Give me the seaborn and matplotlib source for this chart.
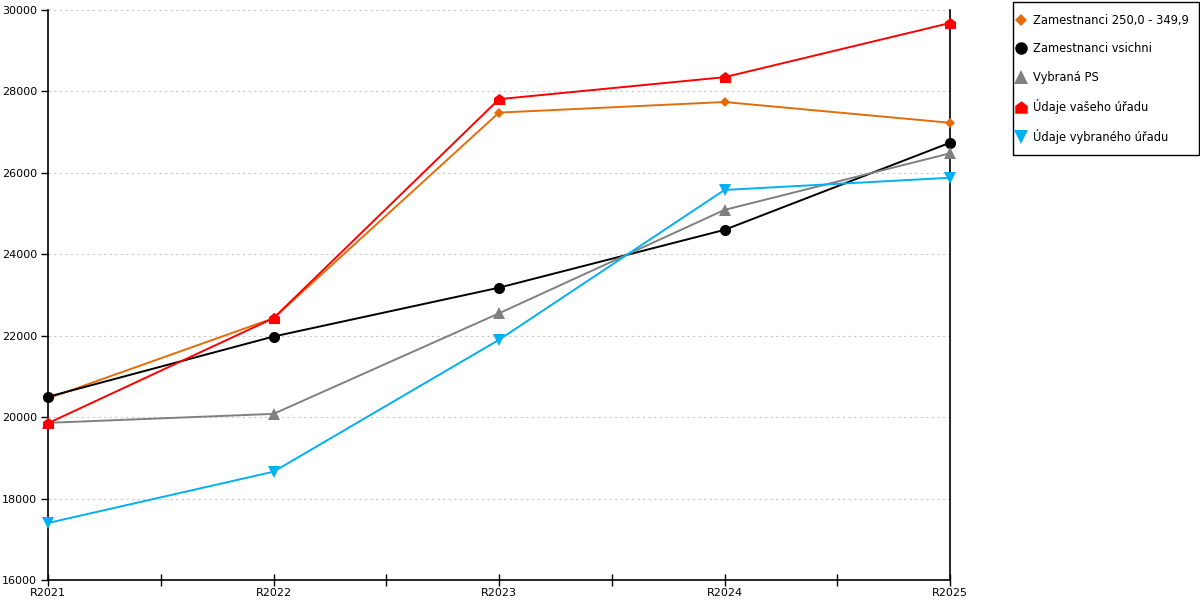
import pandas as pd
import matplotlib
matplotlib.use("Agg")
import matplotlib.pyplot as plt
import seaborn as sns
from matplotlib.lines import Line2D
from matplotlib.patches import Rectangle

years = ["R2021", "R2022", "R2023", "R2024", "R2025"]

zam_250 = [20460, 22430, 27480, 27740, 27230]
zam_vsichni = [20500, 21980, 23180, 24600, 26740]
vybrana_ps = [19860, 20080, 22550, 25090, 26480]
vaseho_uradu = [19850, 22430, 27810, 28350, 29680]
vybraneho_uradu = [17400, 18660, 21900, 25580, 25880]

labels = ["Zamestnanci 250,0 - 349,9", "Zamestnanci vsichni", "Vybraná PS",
          "Údaje vašeho úřadu", "Údaje vybraného úřadu"]
series = [zam_250, zam_vsichni, vybrana_ps, vaseho_uradu, vybraneho_uradu]

house = [(-1, -1), (1, -1), (1, 0.25), (0, 1), (-1, 0.25), (-1, -1)]
colors = ["#e46c0a", "#000000", "#808080", "#ff0000", "#00b0f0"]
markers = ["D", "o", "^", house, "v"]
msizes = [5.5, 8, 8.5, 8, 8.5]

sns.set_style("white")
plt.rcParams["font.family"] = ["DejaVu Sans"]
plt.rcParams["text.color"] = "black"
plt.rcParams["xtick.color"] = "black"
plt.rcParams["ytick.color"] = "black"

fig = plt.figure(figsize=(12, 6), dpi=100)
ax = fig.add_axes([48 / 1200, 20 / 600, 902 / 1200, 570 / 600])

for lab, vals, c, m, ms in zip(labels, series, colors, markers, msizes):
    df = pd.DataFrame({"rok": years, "hodnota": vals})
    sns.lineplot(data=df, x="rok", y="hodnota", ax=ax, color=c, marker=m,
                 markersize=ms, markeredgewidth=0, linewidth=1.4, sort=False,
                 label=lab, legend=False, clip_on=False, zorder=3)

ax.set_xlim(0, 4)
ax.set_ylim(16000, 30000)
ax.set_yticks(range(16000, 30001, 2000))
ax.set_xticks(range(len(years)))
ax.set_xticklabels(years)
ax.set_xticks([0.5, 1.5, 2.5, 3.5], minor=True)
ax.set_xlabel("")
ax.set_ylabel("")

ax.yaxis.grid(True, color="#c8c8c8", linestyle=(0, (2, 3)), linewidth=0.8)
ax.xaxis.grid(False)
for s in ["left", "bottom", "right"]:
    ax.spines[s].set_visible(True)
    ax.spines[s].set_color("black")
    ax.spines[s].set_linewidth(1.2)
ax.spines["top"].set_visible(False)

ax.tick_params(axis="y", which="major", direction="out", length=5, width=1,
               labelsize=8, pad=3, left=True, labelcolor="black")
ax.tick_params(axis="x", which="both", direction="inout", length=8, width=1,
               labelsize=8, pad=2, bottom=True, labelcolor="black")
ax.tick_params(axis="x", which="minor", labelbottom=False)

# legend box drawn separately so the padding can differ per side
fig.patches.append(Rectangle((1013 / 1200, 1 - 155 / 600), 186 / 1200, 153 / 600,
                             transform=fig.transFigure, facecolor="white",
                             edgecolor="black", linewidth=1, zorder=1))

handles = [Line2D([], [], color=c, marker=m, linestyle="", markersize=ms + 1,
                  markeredgewidth=0)
           for c, m, ms in zip(colors, markers, msizes)]
leg = fig.legend(handles, labels, loc="upper left",
                 bbox_to_anchor=(1016 / 1200, 1 - 14 / 600),
                 frameon=False, fontsize=8.3,
                 labelspacing=1.33, borderpad=0, handlelength=0.9,
                 handletextpad=0.55, borderaxespad=0, labelcolor="black")
leg.set_zorder(2)

fig.savefig("out.png", dpi=100)
